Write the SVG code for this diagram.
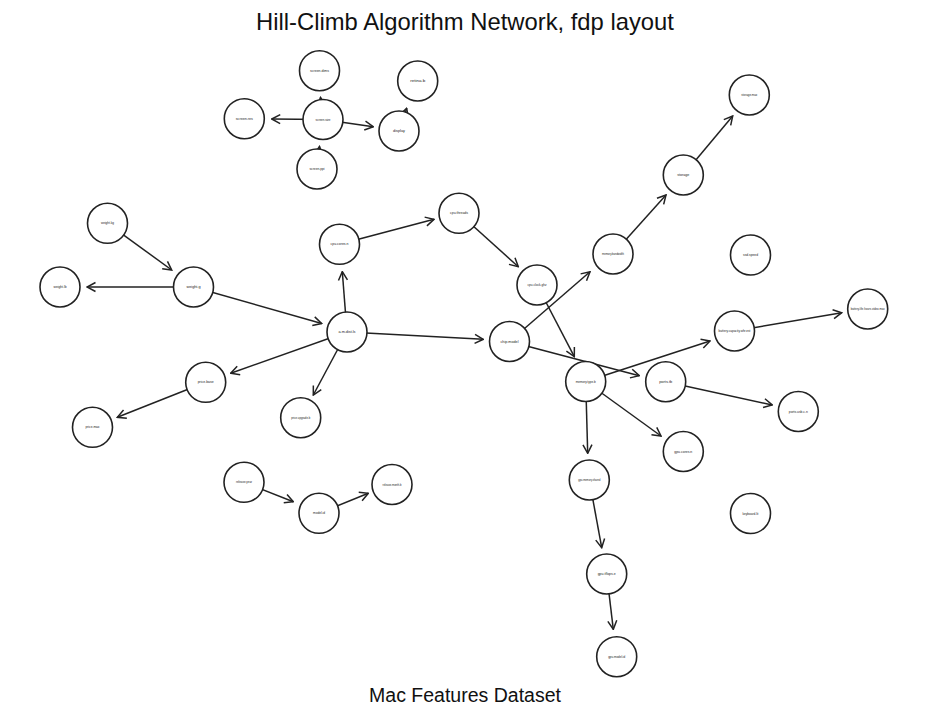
<svg xmlns="http://www.w3.org/2000/svg" width="948" height="708" viewBox="0 0 948 708">
<style>
.n circle{fill:#fff;stroke:#222;stroke-width:1.6}
.n text{font-family:"Liberation Sans",Arial,sans-serif;font-size:3.2px;fill:#222;text-anchor:middle}
.e line{stroke:#222;stroke-width:1.5;fill:none}
.t{font-family:"Liberation Sans",Arial,sans-serif;fill:#111;text-anchor:middle}
</style>
<defs>
<marker id="arr" viewBox="-11 -6 12 12" refX="0" refY="0" markerWidth="12" markerHeight="12" markerUnits="userSpaceOnUse" orient="auto">
<path d="M-8.5,-4.5 L0,0 L-8.5,4.5" fill="none" stroke="#222" stroke-width="1.5"/>
</marker>
</defs>
<rect width="948" height="708" fill="#fff"/>
<text class="t" x="465" y="30" font-size="23.8">Hill-Climb Algorithm Network, fdp layout</text>
<text class="t" x="465" y="702" font-size="19.5">Mac Features Dataset</text>
<g id="edges" class="e" marker-end="url(#arr)">
<line x1="323" y1="119.5" x2="320.5" y2="97.5" marker-end="url(#arr)"/>
<line x1="317" y1="169" x2="319.5" y2="146.5" marker-end="url(#arr)"/>
<line x1="323" y1="119.5" x2="271.7" y2="119" marker-end="url(#arr)"/>
<line x1="323" y1="119.5" x2="373.3" y2="126.7" marker-end="url(#arr)"/>
<line x1="399" y1="131" x2="406.7" y2="108.3" marker-end="url(#arr)"/>
<line x1="107.5" y1="223.3" x2="171.7" y2="270" marker-end="url(#arr)"/>
<line x1="193.5" y1="287" x2="87" y2="287" marker-end="url(#arr)"/>
<line x1="193.5" y1="287" x2="321.7" y2="323.5" marker-end="url(#arr)"/>
<line x1="347" y1="332" x2="342.3" y2="271.7" marker-end="url(#arr)"/>
<line x1="339.5" y1="244.3" x2="434" y2="219.3" marker-end="url(#arr)"/>
<line x1="459" y1="213.3" x2="518.3" y2="266.7" marker-end="url(#arr)"/>
<line x1="347" y1="332" x2="483.3" y2="339.3" marker-end="url(#arr)"/>
<line x1="347" y1="332" x2="230.7" y2="373.3" marker-end="url(#arr)"/>
<line x1="205.7" y1="382.3" x2="117.3" y2="417.3" marker-end="url(#arr)"/>
<line x1="347" y1="332" x2="313.3" y2="395" marker-end="url(#arr)"/>
<line x1="537" y1="285" x2="574.3" y2="356.7" marker-end="url(#arr)"/>
<line x1="509.5" y1="341.5" x2="639.3" y2="375.7" marker-end="url(#arr)"/>
<line x1="509.5" y1="341.5" x2="590" y2="271.7" marker-end="url(#arr)"/>
<line x1="613" y1="254" x2="666" y2="195" marker-end="url(#arr)"/>
<line x1="683.3" y1="175" x2="732.7" y2="116" marker-end="url(#arr)"/>
<line x1="585.7" y1="381.5" x2="710" y2="341" marker-end="url(#arr)"/>
<line x1="734.5" y1="331" x2="841.7" y2="312.7" marker-end="url(#arr)"/>
<line x1="665.7" y1="381.7" x2="772.3" y2="405" marker-end="url(#arr)"/>
<line x1="585.7" y1="381.5" x2="661" y2="436" marker-end="url(#arr)"/>
<line x1="585.7" y1="381.5" x2="587.7" y2="453.3" marker-end="url(#arr)"/>
<line x1="589.3" y1="480" x2="601.7" y2="547.7" marker-end="url(#arr)"/>
<line x1="606.7" y1="574" x2="613.3" y2="629.3" marker-end="url(#arr)"/>
<line x1="244" y1="482.3" x2="293.3" y2="501.7" marker-end="url(#arr)"/>
<line x1="319" y1="513.3" x2="368.3" y2="493.3" marker-end="url(#arr)"/>
</g>
<g id="nodes">
<g id="A1" class="n"><circle cx="319.5" cy="70.7" r="20"/><text x="319.5" y="71.8" textLength="19" lengthAdjust="spacingAndGlyphs">screen.dims</text></g>
<g id="A2" class="n"><circle cx="323" cy="119.5" r="20"/><text x="323" y="120.6" textLength="15" lengthAdjust="spacingAndGlyphs">screen.size</text></g>
<g id="A3" class="n"><circle cx="244.3" cy="118.7" r="20"/><text x="244.3" y="119.8" textLength="17" lengthAdjust="spacingAndGlyphs">screen.res</text></g>
<g id="A4" class="n"><circle cx="317" cy="169" r="20"/><text x="317" y="170.1" textLength="15" lengthAdjust="spacingAndGlyphs">screen.ppi</text></g>
<g id="A5" class="n"><circle cx="399" cy="131" r="20"/><text x="399" y="132.1" textLength="12" lengthAdjust="spacingAndGlyphs">display</text></g>
<g id="A6" class="n"><circle cx="417.7" cy="81" r="20"/><text x="417.7" y="82.1" textLength="15" lengthAdjust="spacingAndGlyphs">retina.b</text></g>
<g id="B1" class="n"><circle cx="107.5" cy="223.3" r="20"/><text x="107.5" y="224.4" textLength="13" lengthAdjust="spacingAndGlyphs">weight.kg</text></g>
<g id="B2" class="n"><circle cx="193.5" cy="287" r="20"/><text x="193.5" y="288.1" textLength="14" lengthAdjust="spacingAndGlyphs">weight.g</text></g>
<g id="B3" class="n"><circle cx="60" cy="287" r="20"/><text x="60" y="288.1" textLength="13" lengthAdjust="spacingAndGlyphs">weight.lb</text></g>
<g id="C1" class="n"><circle cx="347" cy="332" r="20"/><text x="347" y="333.1" textLength="17" lengthAdjust="spacingAndGlyphs">a.m.dist.ls</text></g>
<g id="C2" class="n"><circle cx="339.5" cy="244.3" r="20"/><text x="339.5" y="245.4" textLength="18" lengthAdjust="spacingAndGlyphs">cpu.cores.n</text></g>
<g id="C3" class="n"><circle cx="459" cy="213.3" r="20"/><text x="459" y="214.4" textLength="18" lengthAdjust="spacingAndGlyphs">cpu.threads</text></g>
<g id="C4" class="n"><circle cx="537" cy="285" r="20"/><text x="537" y="286.1" textLength="19" lengthAdjust="spacingAndGlyphs">cpu.clock.ghz</text></g>
<g id="C5" class="n"><circle cx="509.5" cy="341.5" r="20"/><text x="509.5" y="342.6" textLength="18" lengthAdjust="spacingAndGlyphs">chip.model</text></g>
<g id="D1" class="n"><circle cx="585.7" cy="381.5" r="20"/><text x="585.7" y="382.6" textLength="20" lengthAdjust="spacingAndGlyphs">memory.type.b</text></g>
<g id="D2" class="n"><circle cx="613" cy="254" r="20"/><text x="613" y="255.1" textLength="22" lengthAdjust="spacingAndGlyphs">memory.bandwidth</text></g>
<g id="D3" class="n"><circle cx="683.3" cy="175" r="20"/><text x="683.3" y="176.1" textLength="12" lengthAdjust="spacingAndGlyphs">storage</text></g>
<g id="D4" class="n"><circle cx="749.3" cy="95" r="20"/><text x="749.3" y="96.1" textLength="16" lengthAdjust="spacingAndGlyphs">storage.max</text></g>
<g id="D5" class="n"><circle cx="750.5" cy="255" r="20"/><text x="750.5" y="256.1" textLength="15" lengthAdjust="spacingAndGlyphs">ssd.speed</text></g>
<g id="E1" class="n"><circle cx="734.5" cy="331" r="20"/><text x="734.5" y="332.1" textLength="32" lengthAdjust="spacingAndGlyphs">battery.capacity.whr.est</text></g>
<g id="E2" class="n"><circle cx="867.7" cy="309" r="20"/><text x="867.7" y="310.1" textLength="34" lengthAdjust="spacingAndGlyphs">battery.life.hours.video.max</text></g>
<g id="E3" class="n"><circle cx="665.7" cy="381.7" r="20"/><text x="665.7" y="382.8" textLength="13" lengthAdjust="spacingAndGlyphs">ports.tb</text></g>
<g id="E4" class="n"><circle cx="798.3" cy="411.5" r="20"/><text x="798.3" y="412.6" textLength="19" lengthAdjust="spacingAndGlyphs">ports.usb.c.n</text></g>
<g id="E5" class="n"><circle cx="683.3" cy="451.5" r="20"/><text x="683.3" y="452.6" textLength="18" lengthAdjust="spacingAndGlyphs">gpu.cores.n</text></g>
<g id="F1" class="n"><circle cx="589.3" cy="480" r="20"/><text x="589.3" y="481.1" textLength="22" lengthAdjust="spacingAndGlyphs">gpu.memory.shared</text></g>
<g id="F2" class="n"><circle cx="606.7" cy="574" r="20"/><text x="606.7" y="575.1" textLength="18" lengthAdjust="spacingAndGlyphs">gpu.tflops.e</text></g>
<g id="F3" class="n"><circle cx="616.7" cy="656.7" r="20"/><text x="616.7" y="657.8" textLength="17" lengthAdjust="spacingAndGlyphs">gpu.model.id</text></g>
<g id="G1" class="n"><circle cx="750.5" cy="513.5" r="20"/><text x="750.5" y="514.6" textLength="16" lengthAdjust="spacingAndGlyphs">keyboard.lit</text></g>
<g id="H1" class="n"><circle cx="205.7" cy="382.3" r="20"/><text x="205.7" y="383.4" textLength="16" lengthAdjust="spacingAndGlyphs">price.base</text></g>
<g id="H2" class="n"><circle cx="92.5" cy="427.3" r="20"/><text x="92.5" y="428.4" textLength="14" lengthAdjust="spacingAndGlyphs">price.max</text></g>
<g id="H3" class="n"><circle cx="300.7" cy="417.7" r="20"/><text x="300.7" y="418.8" textLength="19" lengthAdjust="spacingAndGlyphs">price.upgrade.b</text></g>
<g id="I1" class="n"><circle cx="244" cy="482.3" r="20"/><text x="244" y="483.4" textLength="16" lengthAdjust="spacingAndGlyphs">release.year</text></g>
<g id="I2" class="n"><circle cx="319" cy="513.3" r="20"/><text x="319" y="514.4" textLength="12" lengthAdjust="spacingAndGlyphs">model.id</text></g>
<g id="I3" class="n"><circle cx="392" cy="484.5" r="20"/><text x="392" y="485.6" textLength="19" lengthAdjust="spacingAndGlyphs">release.month.b</text></g>
</g>
</svg>
